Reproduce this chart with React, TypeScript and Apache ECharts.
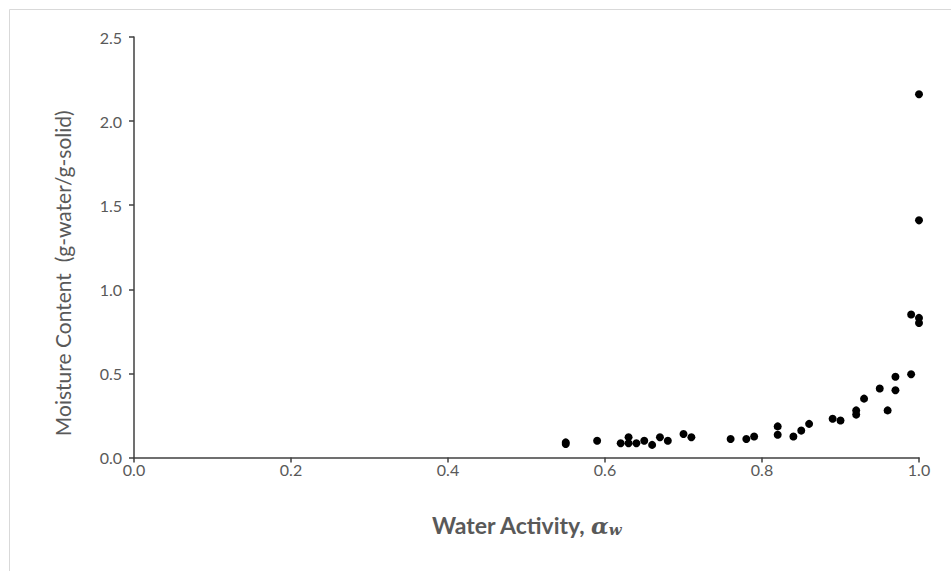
import React, { useEffect, useRef } from "react";
import * as echarts from "echarts";

const xTicks = ["0.0", "0.2", "0.4", "0.6", "0.8", "1.0"];
const yTicks = ["0.0", "0.5", "1.0", "1.5", "2.0", "2.5"];

const waterActivity = [
  0.55, 0.55, 0.59, 0.62, 0.63, 0.63, 0.64, 0.65, 0.66, 0.67, 0.68, 0.70, 0.71,
  0.76, 0.78, 0.79, 0.82, 0.82, 0.84, 0.85, 0.86, 0.89, 0.90, 0.92, 0.92, 0.93,
  0.95, 0.96, 0.97, 0.97, 0.99, 0.99, 1.0, 1.0, 1.0, 1.0,
];
const moisture = [
  0.08, 0.09, 0.10, 0.085, 0.12, 0.085, 0.085, 0.10, 0.075, 0.12, 0.10, 0.14, 0.12,
  0.11, 0.11, 0.125, 0.185, 0.135, 0.125, 0.16, 0.20, 0.23, 0.22, 0.28, 0.255, 0.35,
  0.41, 0.28, 0.40, 0.48, 0.495, 0.85, 0.83, 0.80, 1.41, 2.16,
];

export default function App() {
  const ref = useRef<HTMLDivElement>(null);
  useEffect(() => {
    document.body.style.margin = "0";
    const chart = echarts.init(ref.current!, undefined, { renderer: "svg" });
    const font = "Lato";
    chart.setOption({
      animation: false,
      backgroundColor: "#ffffff",
      graphic: [
        {
          type: "rect",
          shape: { x: 9.5, y: 9.5, width: 1200, height: 1200 },
          style: { fill: "none", stroke: "#d9d9d9", lineWidth: 1 },
        },
      ],
      grid: { left: 134, right: 32, top: 37, bottom: 113.5 },
      xAxis: {
        type: "value",
        min: 0,
        max: 1,
        interval: 0.2,
        name: "{a|Water Activity, }{b|α}{c|w}",
        nameLocation: "middle",
        nameGap: 55,
        nameTextStyle: {
          rich: {
            a: { fontFamily: font, fontSize: 23, fontWeight: "bold", color: "#595959" },
            b: {
              fontFamily: "DejaVu Serif",
              fontSize: 23,
              fontWeight: "bold",
              fontStyle: "italic",
              color: "#595959",
            },
            c: {
              fontFamily: "DejaVu Serif",
              fontSize: 15,
              fontWeight: "bold",
              fontStyle: "italic",
              color: "#595959",
              padding: [10, 0, 0, 0],
            },
          },
        },
        axisLine: { show: true, lineStyle: { color: "#404040", width: 1.5 } },
        axisTick: { show: true, length: 5, lineStyle: { color: "#404040", width: 1.5 } },
        splitLine: { show: false },
        axisLabel: {
          margin: 4,
          color: "#595959",
          fontFamily: font,
          fontSize: 16,
          formatter: (v: number) => xTicks[Math.round(v / 0.2)] ?? "",
        },
      },
      yAxis: {
        type: "value",
        min: 0,
        max: 2.5,
        interval: 0.5,
        name: "Moisture Content  (g-water/g-solid)",
        nameLocation: "middle",
        nameGap: 61,
        nameTextStyle: {
          fontFamily: font,
          fontSize: 21,
          color: "#595959",
          padding: [0, 52, 0, 0],
        },
        axisLine: { show: true, lineStyle: { color: "#404040", width: 1.5 } },
        axisTick: { show: true, length: 5, lineStyle: { color: "#404040", width: 1.5 } },
        splitLine: { show: false },
        axisLabel: {
          margin: 12,
          color: "#595959",
          fontFamily: font,
          fontSize: 16,
          formatter: (v: number) => yTicks[Math.round(v / 0.5)] ?? "",
        },
      },
      series: [
        {
          type: "scatter",
          symbol: "circle",
          symbolSize: 8,
          itemStyle: { color: "#000000", opacity: 1 },
          data: waterActivity.map((x, i) => [x, moisture[i]]),
        },
      ],
    });
    return () => chart.dispose();
  }, []);
  return <div ref={ref} style={{ width: 951, height: 571 }} />;
}
